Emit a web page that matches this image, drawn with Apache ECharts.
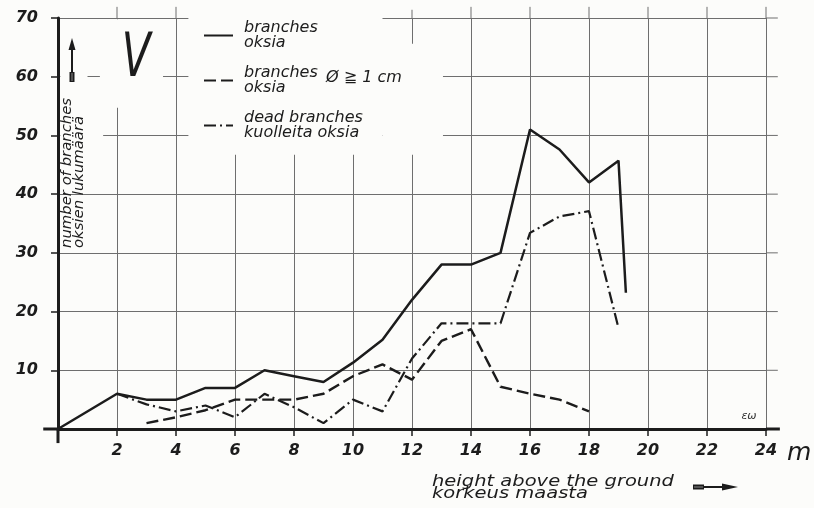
<!DOCTYPE html>
<html>
<head>
<meta charset="utf-8">
<script src="https://cdn.jsdelivr.net/npm/echarts@6/dist/echarts.min.js"></script>
<style>
  html, body { margin: 0; padding: 0; background: #fcfcfa; }
  #chart { width: 814px; height: 508px; }
</style>
</head>
<body>
<div id="chart"></div>
<script>
// Axis ticks (height in metres, number of branches)
const xTicks = [0, 2, 4, 6, 8, 10, 12, 14, 16, 18, 20, 22, 24];
const yTicks = [0, 10, 20, 30, 40, 50, 60, 70];

// All branches
const branchesX = [0, 2, 3, 4, 5, 6, 7, 8, 9, 10, 11, 12, 13, 14, 15, 16, 17, 18, 19, 19.25];
const branchesY = [0, 6, 5, 5, 7, 7, 10, 9, 8, 11.3, 15.2, 22, 28, 28, 30, 51, 47.6, 42, 45.7, 23.2];

// Branches with diameter >= 1 cm
const thickX = [3, 4, 5, 6, 7, 8, 9, 10, 11, 12, 13, 14, 15, 16, 17, 18];
const thickY = [1, 2, 3.2, 5, 5, 5, 6, 9, 11, 8.4, 15, 17, 7.2, 6, 5, 3];

// Dead branches
const deadX = [2, 3, 4, 5, 6, 7, 8, 9, 10, 11, 12, 13, 14, 15, 16, 17, 18, 19];
const deadY = [6, 4.2, 3, 4, 2, 6, 3.7, 1, 5, 3, 12, 18, 18, 18, 33.4, 36.2, 37.1, 17.2];

const seriesNames = ['branches', 'branches \u00d8\u22671cm', 'dead branches'];
const legendLabels = ['branches\noksia', 'branches\noksia', 'dead branches\nkuolleita oksia'];

const INK = '#1c1c1c';
const GRID = '#6e6e6e';
const BG = '#fcfcfa';
const FONT = '"DejaVu Sans", sans-serif';

const pairs = (xs, ys) => xs.map((x, i) => [x, ys[i]]);

const lineStyles = [
  { color: INK, width: 2.5, type: 'solid' },
  { color: INK, width: 2.4, type: [12, 5] },
  { color: INK, width: 2.2, type: [12, 4, 2, 4] }
];

const chart = echarts.init(document.getElementById('chart'), null, { renderer: 'canvas' });

const option = {
  backgroundColor: BG,
  animation: false,
  grid: { left: 58, right: 48, top: 18, bottom: 79 },
  xAxis: {
    type: 'value',
    min: xTicks[0], max: xTicks[xTicks.length - 1], interval: xTicks[1] - xTicks[0],
    axisLine: { onZero: true, lineStyle: { color: INK, width: 3 } },
    axisTick: { show: true, length: 7, lineStyle: { color: INK, width: 1.5 } },
    axisLabel: {
      margin: 14, color: INK, fontFamily: FONT, fontSize: 16, fontStyle: 'italic', fontWeight: 'bold',
      formatter: v => (v === 0 ? '' : String(v))
    },
    splitLine: { show: true, lineStyle: { color: GRID, width: 1 } }
  },
  yAxis: {
    type: 'value',
    min: yTicks[0], max: yTicks[yTicks.length - 1], interval: yTicks[1] - yTicks[0],
    axisLine: { onZero: true, lineStyle: { color: INK, width: 3 } },
    axisTick: { show: true, length: 7, lineStyle: { color: INK, width: 1.5 } },
    axisLabel: {
      margin: 20, color: INK, fontFamily: FONT, fontSize: 16, fontStyle: 'italic', fontWeight: 'bold',
      formatter: v => (v === 0 ? '' : String(v))
    },
    splitLine: { show: true, lineStyle: { color: GRID, width: 1 } }
  },
  legend: {
    orient: 'vertical',
    left: 203, top: 20,
    padding: 0,
    itemWidth: 29, itemHeight: 10, itemGap: 14,
    selectedMode: false,
    data: seriesNames,
    formatter: name => legendLabels[seriesNames.indexOf(name)],
    itemStyle: { color: 'rgba(0,0,0,0)', borderWidth: 0, opacity: 0 },
    textStyle: {
      color: INK, fontFamily: FONT, fontSize: 16, fontStyle: 'italic',
      lineHeight: 15, padding: [0, 0, 0, 6]
    }
  },
  series: [
    { name: seriesNames[0], type: 'line', data: pairs(branchesX, branchesY), symbol: 'none', itemStyle: { color: INK }, lineStyle: lineStyles[0], z: 3 },
    { name: seriesNames[1], type: 'line', data: pairs(thickX, thickY), symbol: 'none', itemStyle: { color: INK }, lineStyle: lineStyles[1], z: 3 },
    { name: seriesNames[2], type: 'line', data: pairs(deadX, deadY), symbol: 'none', itemStyle: { color: INK }, lineStyle: lineStyles[2], z: 3 }
  ]
};

chart.setOption(option);

// Decorations placed in data space through the grid's own coordinate system
const px = (x, y) => chart.convertToPixel({ gridIndex: 0 }, [x, y]);
const seg = (a, b, style, z) => {
  const p = px(a[0], a[1]), q = px(b[0], b[1]);
  return { type: 'line', silent: true, z: z || 1, shape: { x1: p[0], y1: p[1], x2: q[0], y2: q[1] }, style: style };
};
const mask = (x0, y0, x1, y1) => {
  const p = px(x0, y1), q = px(x1, y0);
  return { type: 'rect', silent: true, z: 1, shape: { x: p[0], y: p[1], width: q[0] - p[0], height: q[1] - p[1] }, style: { fill: BG } };
};

const gridStyle = { stroke: GRID, lineWidth: 1 };
const axisStyle = { stroke: INK, lineWidth: 3 };
const xMax = xTicks[xTicks.length - 1];
const yMax = yTicks[yTicks.length - 1];

const graphics = [];

// Blank panel behind the title and legend
graphics.push(mask(4.42, 46.7, 11.0, 70.4));
graphics.push(mask(11.0, 46.7, 13.05, 65.6));
graphics.push(mask(0.08, 54.7, 1.0, 69.8));
graphics.push(mask(1.42, 54.7, 3.56, 69.8));
graphics.push(mask(0.08, 49.6, 1.53, 50.4));

// Axis lines running past the origin
graphics.push(seg([-0.5, 0], [0, 0], axisStyle, 2));
graphics.push(seg([xMax, 0], [xMax + 0.47, 0], axisStyle, 2));
graphics.push(seg([0, 0], [0, -2.4], axisStyle, 2));

// Grid lines running past the frame
yTicks.filter(v => v > 0).forEach(v => graphics.push(seg([xMax, v], [xMax + 0.4, v], gridStyle)));
xTicks.filter(v => v > 0 && !(v > 4.42 && v < 11.0)).forEach(v =>
  graphics.push(seg([v, yMax], [v, yMax + (v === 12 ? 1.4 : 1.9)], gridStyle)));

// Title letter
graphics.push({
  type: 'text', z: 10, x: 136, y: 60, scaleX: 0.7,
  style: { text: 'V', font: 'italic 60px ' + FONT, fill: INK, align: 'center', verticalAlign: 'middle' }
});

// Extra note on the second legend entry
graphics.push({
  type: 'text', z: 10, x: 326, y: 78,
  style: { text: '\u00d8 \u2267 1 cm', font: 'italic 16px ' + FONT, fill: INK, align: 'left', verticalAlign: 'middle' }
});

// Y axis caption with upward arrow
graphics.push({
  type: 'text', z: 10, x: 73, y: 248, rotation: Math.PI / 2, scaleX: 1.06,
  style: { text: 'number of branches\noksien lukum\u00e4\u00e4r\u00e4', font: 'italic 14px ' + FONT, lineHeight: 12, fill: INK, align: 'left', verticalAlign: 'middle' }
});
graphics.push({ type: 'polygon', z: 10, shape: { points: [[72, 38], [68.5, 50], [75.5, 50]] }, style: { fill: INK } });
graphics.push({ type: 'line', z: 10, shape: { x1: 72, y1: 50, x2: 72, y2: 73 }, style: { stroke: INK, lineWidth: 2 } });
graphics.push({ type: 'rect', z: 10, shape: { x: 69.5, y: 72, width: 5, height: 10 }, style: { fill: INK } });
graphics.push({ type: 'line', z: 11, shape: { x1: 72, y1: 73, x2: 72, y2: 81 }, style: { stroke: '#8a8a8a', lineWidth: 1 } });

// X axis caption with arrow and unit
graphics.push({
  type: 'text', z: 10, x: 432, y: 488, scaleX: 1.3,
  style: { text: 'height above the ground\nkorkeus maasta', font: 'italic 15px ' + FONT, lineHeight: 12.5, fill: INK, align: 'left', verticalAlign: 'middle' }
});
graphics.push({ type: 'rect', z: 10, shape: { x: 693, y: 484.5, width: 11, height: 5 }, style: { fill: INK } });
graphics.push({ type: 'line', z: 11, shape: { x1: 694, y1: 487, x2: 703, y2: 487 }, style: { stroke: '#8a8a8a', lineWidth: 1 } });
graphics.push({ type: 'line', z: 10, shape: { x1: 704, y1: 487, x2: 724, y2: 487 }, style: { stroke: INK, lineWidth: 2 } });
graphics.push({ type: 'polygon', z: 10, shape: { points: [[738, 487], [722, 483.5], [722, 490.5]] }, style: { fill: INK } });
graphics.push({
  type: 'text', z: 10, x: 787, y: 453,
  style: { text: 'm', font: 'italic 25px ' + FONT, fill: INK, align: 'left', verticalAlign: 'middle' }
});

// Draughtsman's initials
graphics.push({
  type: 'text', z: 10, x: 749, y: 416,
  style: { text: '\u03b5\u03c9', font: 'italic 11px ' + FONT, fill: '#333', align: 'center', verticalAlign: 'middle' }
});

chart.setOption({ graphic: { elements: graphics } });
</script>
</body>
</html>
